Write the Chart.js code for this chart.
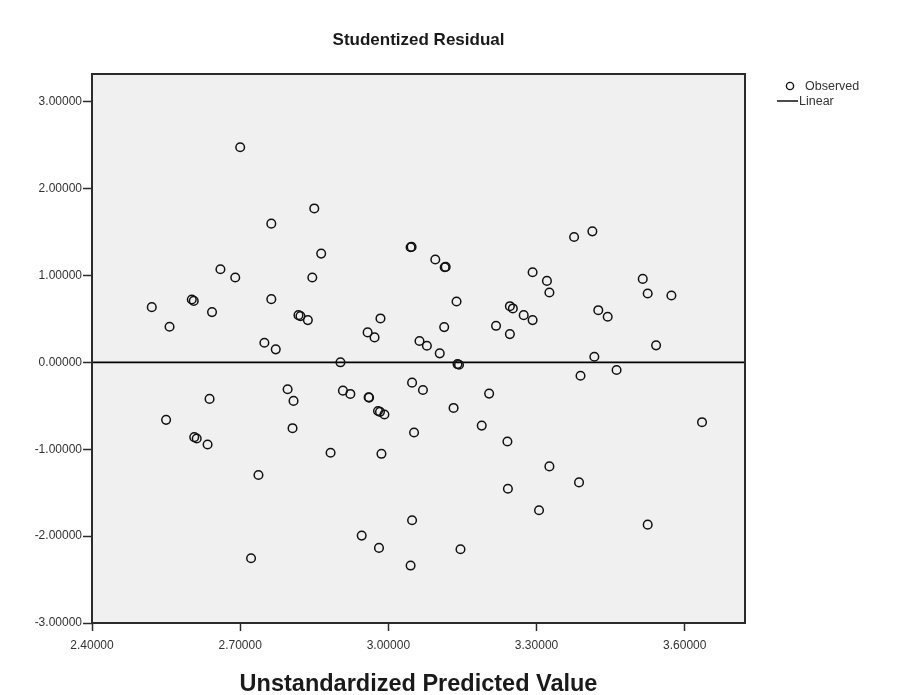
<!DOCTYPE html>
<html>
<head>
<meta charset="utf-8">
<script src="https://cdn.jsdelivr.net/npm/chart.js@4.4.1/dist/chart.umd.min.js"></script>
<style>
  html, body { margin: 0; padding: 0; background: #fff; }
</style>
</head>
<body>
<canvas id="residualChart" width="917" height="695"></canvas>
<script>
// unstandardized predicted value (x) and studentized residual (y), one pair per case
const predicted = [
  2.700, 2.850, 2.763, 2.864, 2.660, 2.690, 2.846, 2.521, 2.602, 2.606,
  2.643, 2.763, 2.557, 2.818, 2.822, 2.837, 2.749, 2.772, 2.903, 2.984,
  2.958, 2.972, 3.045, 3.047, 3.095, 3.114, 3.116, 3.138, 3.113, 3.063,
  3.078, 3.104, 3.140, 3.143, 3.218, 3.246, 3.246, 3.252, 3.274, 3.292,
  3.292, 3.321, 3.326, 3.376, 3.413, 3.425, 3.444, 3.417, 3.389, 3.462,
  3.515, 3.525, 3.573, 3.542, 2.638, 2.550, 2.607, 2.612, 2.634, 2.796,
  2.808, 2.806, 2.737, 2.722, 2.883, 2.908, 2.923, 2.960, 2.961, 2.979,
  2.983, 2.992, 3.048, 3.070, 3.052, 2.986, 3.132, 3.204, 3.189, 3.241,
  3.326, 3.386, 3.242, 3.305, 3.525, 3.635, 3.048, 2.946, 2.981, 3.045,
  3.146
];
const residual = [
  2.475, 1.771, 1.596, 1.251, 1.071, 0.976, 0.976, 0.635, 0.723, 0.707,
  0.578, 0.727, 0.409, 0.543, 0.532, 0.486, 0.225, 0.149, 0.000, 0.505,
  0.344, 0.287, 1.324, 1.328, 1.183, 1.094, 1.098, 0.700, 0.405, 0.245,
  0.191, 0.103, -0.020, -0.028, 0.420, 0.325, 0.646, 0.620, 0.543, 0.486,
  1.037, 0.937, 0.804, 1.442, 1.507, 0.600, 0.524, 0.064, -0.155, -0.088,
  0.960, 0.792, 0.769, 0.195, -0.421, -0.662, -0.861, -0.877, -0.946, -0.310,
  -0.444, -0.758, -1.297, -2.255, -1.041, -0.326, -0.364, -0.402, -0.406, -0.560,
  -0.570, -0.601, -0.234, -0.318, -0.808, -1.053, -0.525, -0.360, -0.728, -0.911,
  -1.198, -1.382, -1.455, -1.703, -1.868, -0.689, -1.818, -1.994, -2.136, -2.339,
  -2.151
];

// fitted linear line: residual = intercept + slope * predicted
const fitIntercept = 0;
const fitSlope = 0;

const xRange = [2.4, 3.722];
const yRange = [-3, 3.318];
const xTicks = [2.4, 2.7, 3.0, 3.3, 3.6];
const yTicks = [-3, -2, -1, 0, 1, 2, 3];

const FONT = '"Liberation Sans", Arial, Helvetica, sans-serif';

const observed = predicted.map((x, i) => ({ x: x, y: residual[i] }));
const linear = xRange.map(x => ({ x: x, y: fitIntercept + fitSlope * x }));

// grey plot background and the dark frame round it
const plotFrame = {
  id: 'plotFrame',
  beforeDraw(chart) {
    const { ctx, chartArea: a } = chart;
    ctx.save();
    ctx.fillStyle = '#f0f0f0';
    ctx.fillRect(a.left, a.top, a.right - a.left, a.bottom - a.top);
    ctx.restore();
  },
  afterDraw(chart) {
    const { ctx, chartArea: a } = chart;
    ctx.save();
    ctx.strokeStyle = '#2b2b2b';
    ctx.lineWidth = 2;
    ctx.strokeRect(a.left, a.top, a.right - a.left, a.bottom - a.top);
    ctx.restore();
  }
};

// legend sitting to the right of the frame
const sideLegend = {
  id: 'sideLegend',
  afterDraw(chart) {
    const ctx = chart.ctx;
    ctx.save();
    ctx.font = '12.5px ' + FONT;
    ctx.fillStyle = '#333';
    ctx.textBaseline = 'middle';
    ctx.strokeStyle = '#111';

    ctx.lineWidth = 1.4;
    ctx.beginPath();
    ctx.arc(790, 86, 3.6, 0, Math.PI * 2);
    ctx.stroke();
    ctx.fillText('Observed', 805, 87);

    ctx.lineWidth = 1.5;
    ctx.beginPath();
    ctx.moveTo(777, 101);
    ctx.lineTo(798, 101);
    ctx.stroke();
    ctx.fillText('Linear', 799, 102);
    ctx.restore();
  }
};

new Chart(document.getElementById('residualChart'), {
  type: 'scatter',
  data: {
    datasets: [
      {
        label: 'Observed',
        data: observed,
        pointStyle: 'circle',
        pointRadius: 4.3,
        pointBorderWidth: 1.5,
        pointBorderColor: '#111',
        pointBackgroundColor: 'rgba(0,0,0,0)'
      },
      {
        label: 'Linear',
        type: 'line',
        data: linear,
        showLine: true,
        borderColor: '#000',
        borderWidth: 1.8,
        pointRadius: 0
      }
    ]
  },
  options: {
    responsive: false,
    animation: false,
    devicePixelRatio: 1,
    layout: { padding: { left: 0, right: 172, top: 0, bottom: 0 } },
    plugins: {
      legend: { display: false },
      tooltip: { enabled: false },
      title: {
        display: true,
        text: 'Studentized Residual',
        fullSize: false,
        color: '#1a1a1a',
        font: { family: FONT, size: 17, weight: 'bold' },
        padding: { top: 30, bottom: 23.6 }
      }
    },
    scales: {
      x: {
        type: 'linear',
        min: xRange[0],
        max: xRange[1],
        afterBuildTicks: s => { s.ticks = xTicks.map(v => ({ value: v })); },
        afterFit: s => { s.height = 72; },
        ticks: {
          callback: v => v.toFixed(5),
          color: '#333',
          padding: 7,
          maxRotation: 0,
          font: { family: FONT, size: 12 }
        },
        grid: { drawOnChartArea: false, drawTicks: true, tickLength: 8, tickColor: '#2b2b2b', tickWidth: 1.5 },
        border: { display: false },
        title: {
          display: true,
          text: 'Unstandardized Predicted Value',
          color: '#1a1a1a',
          font: { family: FONT, size: 23.5, weight: 'bold' },
          padding: { top: 0, bottom: -4 }
        }
      },
      y: {
        type: 'linear',
        min: yRange[0],
        max: yRange[1],
        afterBuildTicks: s => { s.ticks = yTicks.map(v => ({ value: v })); },
        afterFit: s => { s.width = 92; },
        ticks: {
          callback: v => v.toFixed(5),
          color: '#333',
          padding: 1,
          font: { family: FONT, size: 12 }
        },
        grid: { drawOnChartArea: false, drawTicks: true, tickLength: 9, tickColor: '#2b2b2b', tickWidth: 1.5 },
        border: { display: false }
      }
    }
  },
  plugins: [plotFrame, sideLegend]
});
</script>
</body>
</html>
